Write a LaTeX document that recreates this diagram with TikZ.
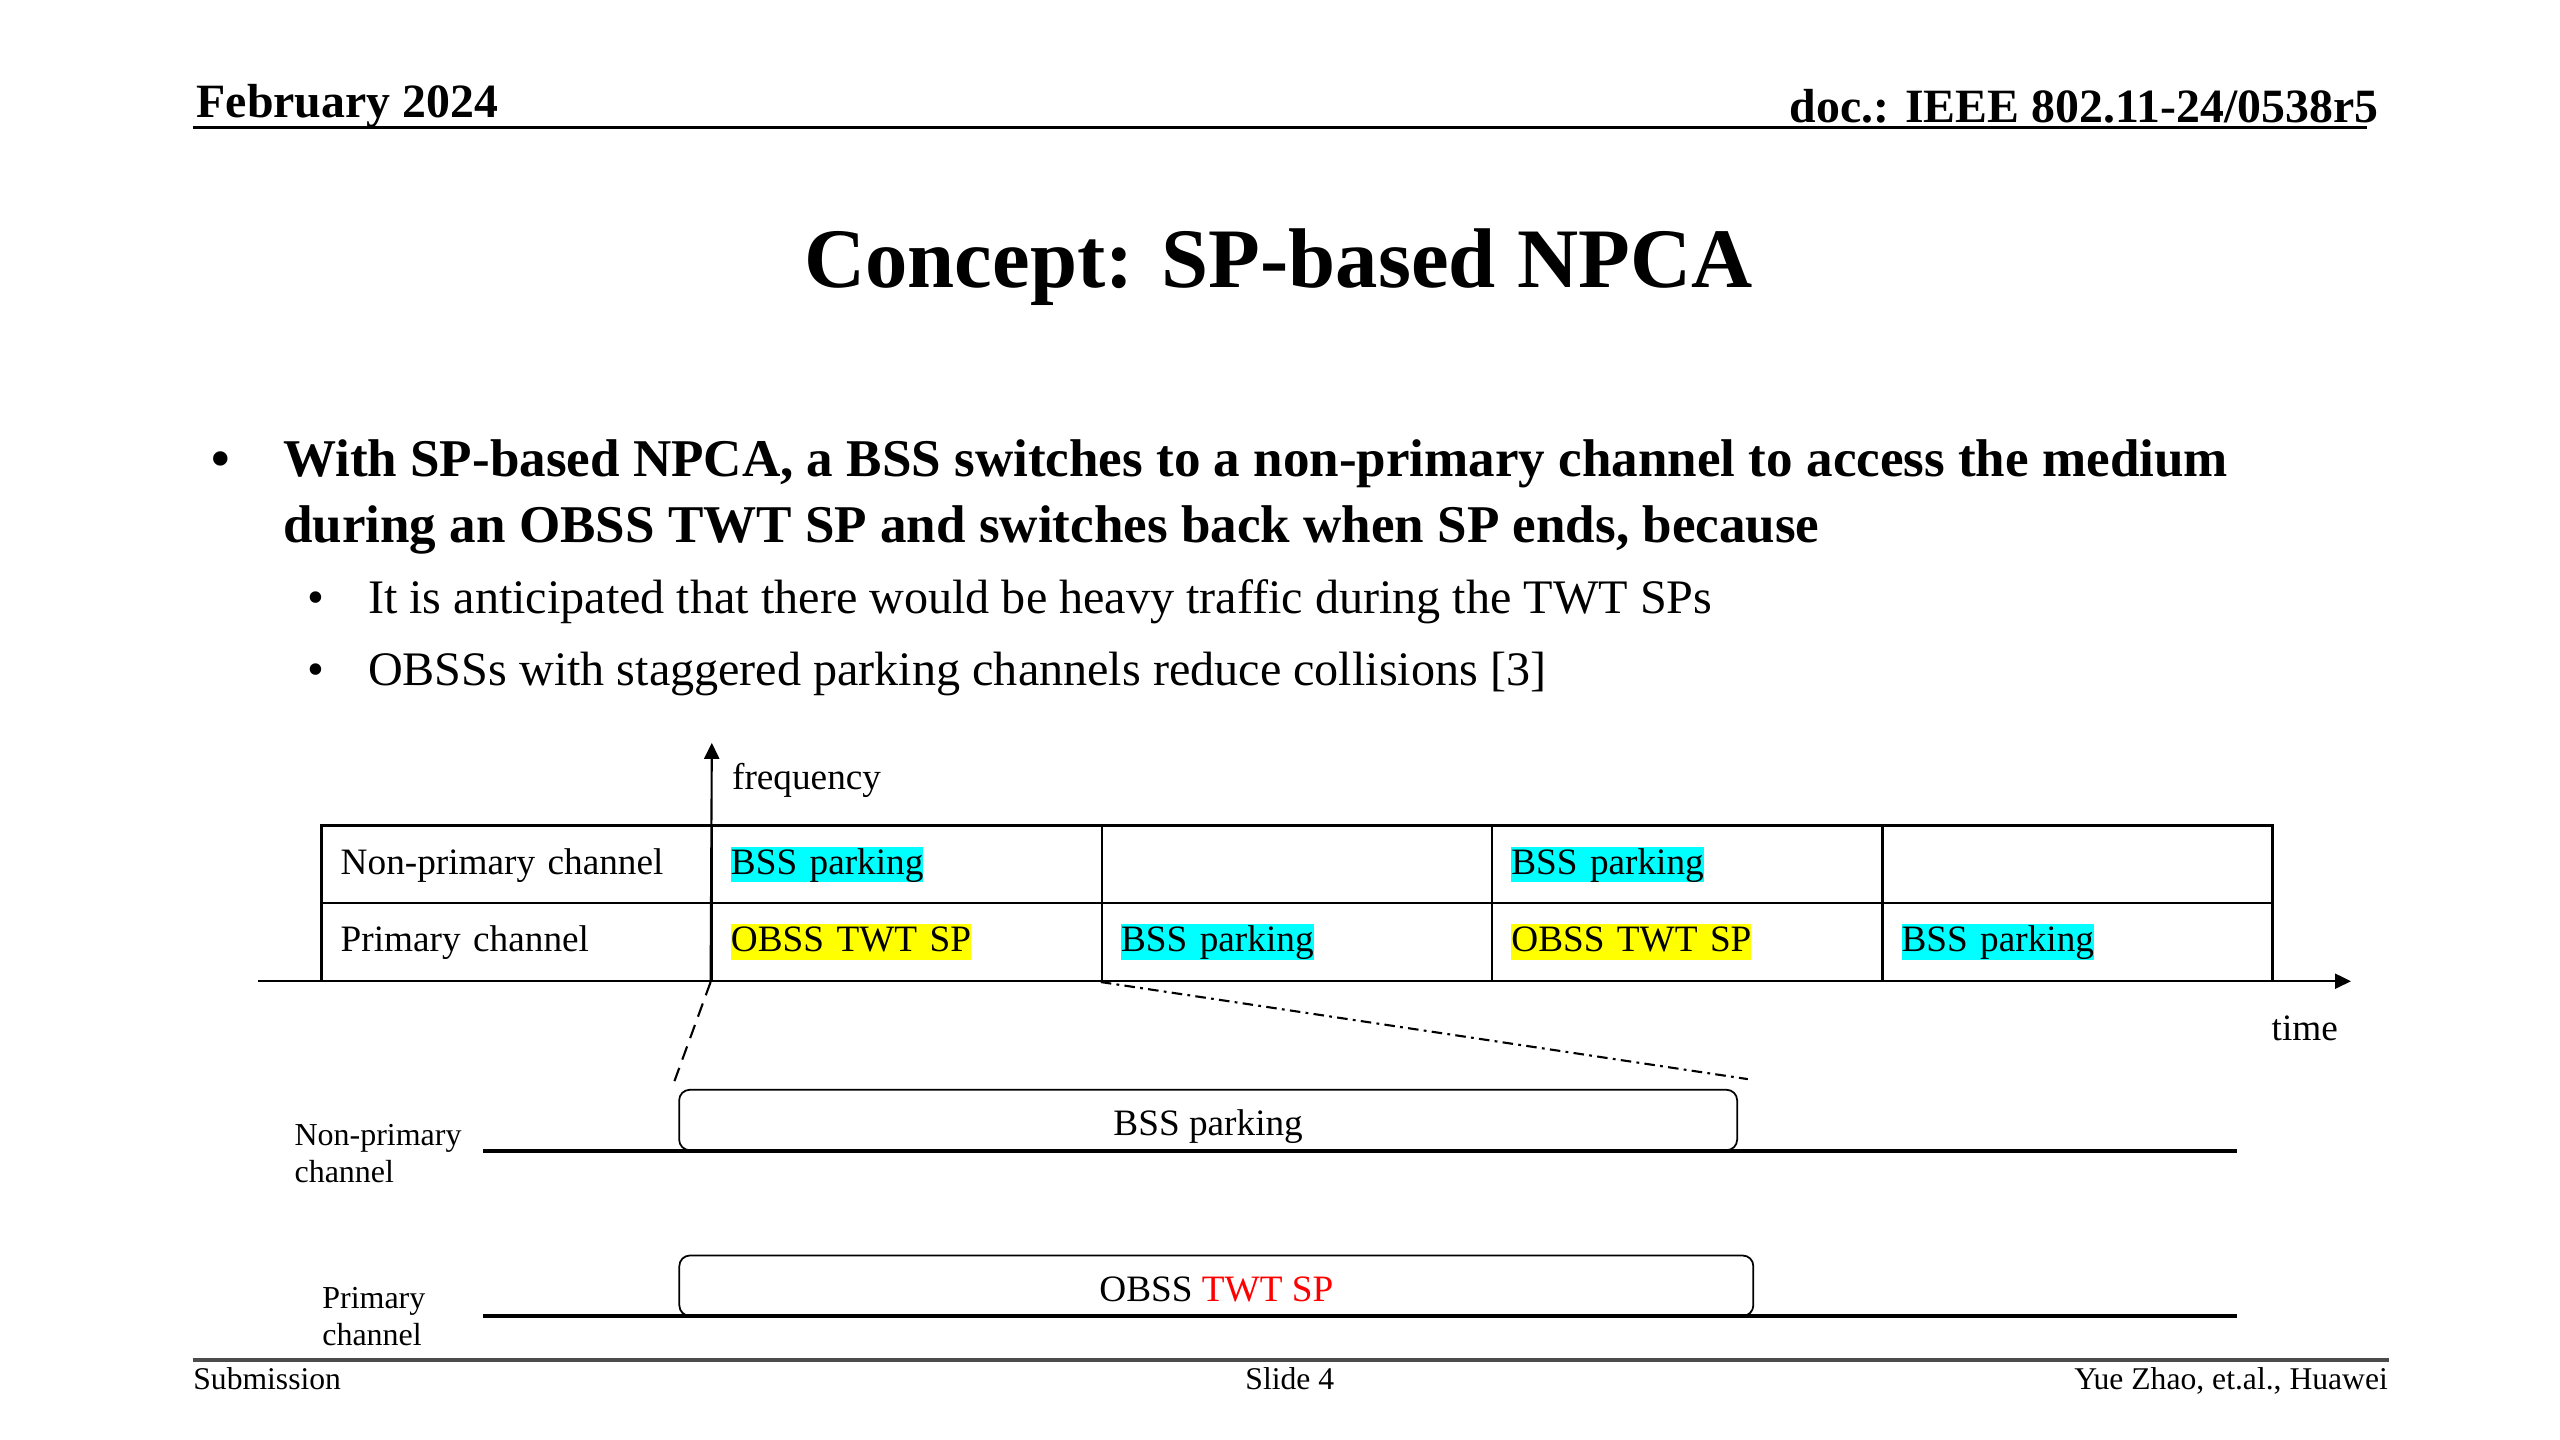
\documentclass[tikz,border=0pt]{standalone}
\usepackage{fontspec}
\setmainfont{Liberation Serif}
\usepackage{xcolor}
\usepackage{tikz}
\usetikzlibrary{arrows.meta, positioning, calc}

\definecolor{hlcyan}{RGB}{0,255,255}
\definecolor{hlyellow}{RGB}{255,255,0}
\definecolor{twtred}{RGB}{255,0,0}

\newcommand{\cellstrut}{\rule[-0.22em]{0pt}{0.96em}}
\newcommand{\hlmark}[2]{{\setlength{\fboxsep}{0pt}\colorbox{#1}{\cellstrut #2}}}

\begin{document}
\begin{tikzpicture}[
    x=0.016327cm, y=-0.016327cm,
    plaintext/.style={inner sep=0pt},
    headtext/.style={plaintext, font=\fontsize{13.6}{16}\selectfont\bfseries},
    titletext/.style={plaintext, font=\fontsize{24.1}{29}\selectfont\bfseries},
    bulletbold/.style={plaintext, font=\fontsize{15.1}{18.6}\selectfont\bfseries},
    bulletsub/.style={plaintext, font=\fontsize{13.7}{16.5}\selectfont},
    cell/.style={rectangle, draw, line width=0.7pt, minimum width=3.902cm, minimum height=0.7755cm, text width=3.52cm, inner xsep=0.19cm, inner ysep=0pt, align=left, font=\fontsize{10.6}{12.7}\selectfont},
    slotbox/.style={rectangle, draw, rounded corners=3pt, line width=0.5pt, minimum height=0.604cm, text height=0.9em, text depth=0pt, font=\fontsize{10.6}{12.7}\selectfont},
    chanline/.style={line width=1.2pt},
    axis/.style={-{Triangle[length=1.6mm, width=1.5mm]}, line width=0.6pt},
    smalllabel/.style={plaintext, align=left, font=\fontsize{9.1}{10.7}\selectfont},
    foottext/.style={plaintext, font=\fontsize{9}{11}\selectfont},
  ]
    \useasboundingbox (0,0) rectangle (1568,882);

    % Header
    \node[headtext, anchor=base west] (date) at (120,72) {February 2024};
    \node[headtext, anchor=base east] (docid) at (1457,75) {doc.: IEEE 802.11-24/0538r5};
    \draw[line width=0.8pt] (118,78) -- (1450,78);

    % Title
    \node[titletext, anchor=base] (title) at (783,176) {Concept: SP-based NPCA};

    % Bullets
    \node[bulletbold, anchor=base west] (b1dot) at (129,292) {\textbullet};
    \node[bulletbold, anchor=base west] (b1a) at (173,292) {With SP-based NPCA, a BSS switches to a non-primary channel to access the medium};
    \node[bulletbold, anchor=base west] (b1b) at (173,332) {during an OBSS TWT SP and switches back when SP ends, because};
    \node[bulletsub, anchor=base west] (b2dot) at (188,376) {\textbullet};
    \node[bulletsub, anchor=base west] (b2) at (225,376) {It is anticipated that there would be heavy traffic during the TWT SPs};
    \node[bulletsub, anchor=base west] (b3dot) at (188,420) {\textbullet};
    \node[bulletsub, anchor=base west] (b3) at (225,420) {OBSSs with staggered parking channels reduce collisions [3]};

    % Table, non-primary row
    \node[cell] (nphead) at (316.5,529.5) {\cellstrut Non-primary channel};
    \node[cell] (np1) at (555.5,529.5) {\hlmark{hlcyan}{BSS parking}};
    \node[cell] (np2) at (794.5,529.5) {};
    \node[cell] (np3) at (1033.5,529.5) {\hlmark{hlcyan}{BSS parking}};
    \node[cell] (np4) at (1272.5,529.5) {};

    % Table, primary row
    \node[cell] (prhead) at (316.5,577) {\cellstrut Primary channel};
    \node[cell] (pr1) at (555.5,577) {\hlmark{hlyellow}{OBSS TWT SP}};
    \node[cell] (pr2) at (794.5,577) {\hlmark{hlcyan}{BSS parking}};
    \node[cell] (pr3) at (1033.5,577) {\hlmark{hlyellow}{OBSS TWT SP}};
    \node[cell] (pr4) at (1272.5,577) {\hlmark{hlcyan}{BSS parking}};

    % Axes
    \coordinate (t0) at (158,601);
    \coordinate (t1) at (1440,601);
    \coordinate (freqtip) at (436,455);
    \draw[axis] (t0) -- (t1);
    \draw[axis] (pr1.south west) -- (freqtip);
    \node[plaintext, anchor=west, font=\fontsize{10.6}{12.7}\selectfont] (freqlabel) at (448,478) {frequency};
    \node[plaintext, anchor=west, font=\fontsize{10.6}{12.7}\selectfont] (timelabel) at (1391,630) {time};

    % Zoomed view
    \draw[chanline] (296,705) -- (1370,705);
    \draw[chanline] (296,806) -- (1370,806);
    \node[smalllabel, anchor=west] (nplabel) at (180,706.5) {Non-primary\\channel};
    \node[smalllabel, anchor=west] (prlabel) at (197,806.5) {Primary\\channel};
    \node[slotbox, minimum width=10.58cm] (npslot) at (740,686) {BSS parking};
    \node[slotbox, minimum width=10.74cm] (prslot) at (745,787.5) {OBSS \textcolor{twtred}{TWT SP}};

    \draw[line width=0.6pt, dash pattern=on 4pt off 2.5pt] (pr1.south west) -- ([shift={(-3,-3)}]npslot.north west);
    \draw[line width=0.6pt, dash pattern=on 3pt off 1.5pt on 0.8pt off 1.5pt] (pr2.south west) -- ([shift={(6,-6)}]npslot.north east);

    % Footer
    \draw[line width=1pt, black!70] (118,833) -- (1463,833);
    \node[foottext, anchor=base west] (submission) at (118,851) {Submission};
    \node[foottext, anchor=base] (slideno) at (790,851) {Slide 4};
    \node[foottext, anchor=base east] (author) at (1463,851) {Yue Zhao, et.al., Huawei};

  \end{tikzpicture}
\end{document}
